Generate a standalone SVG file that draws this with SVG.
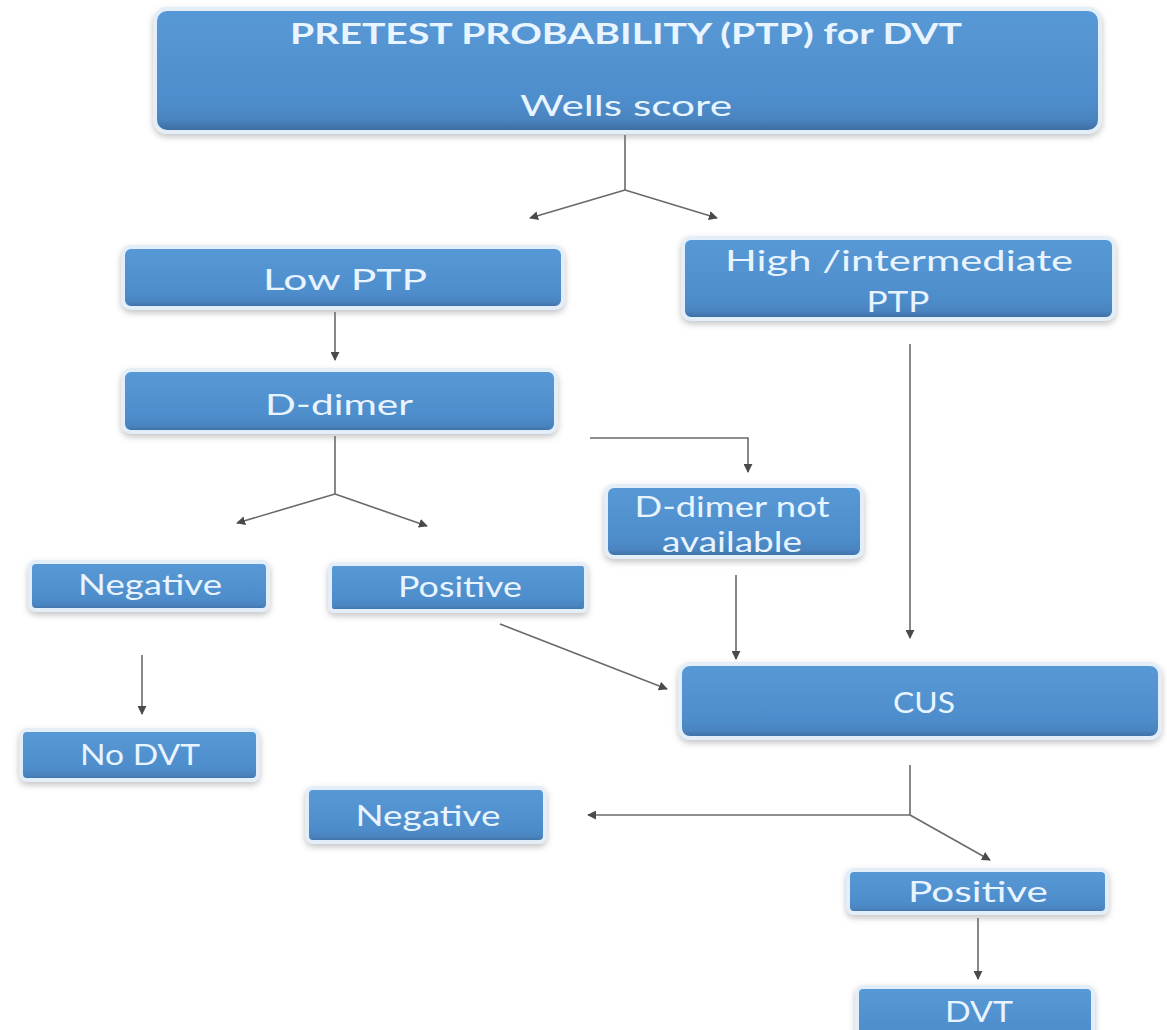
<svg xmlns="http://www.w3.org/2000/svg" width="1167" height="1030" viewBox="0 0 1167 1030">
<defs>
<linearGradient id="bf" x1="0" y1="0" x2="0" y2="1">
<stop offset="0" stop-color="#5799d6"/>
<stop offset="0.75" stop-color="#4e8dcb"/>
<stop offset="0.9" stop-color="#4a84bf"/>
<stop offset="1" stop-color="#3a6a9e"/>
</linearGradient>
<filter id="sh" x="-10%" y="-20%" width="120%" height="150%">
<feDropShadow dx="0" dy="3" stdDeviation="3" flood-color="#7a7a7a" flood-opacity="0.45"/>
</filter>
<marker id="ah" viewBox="0 0 10 10" refX="9" refY="5" markerWidth="9" markerHeight="9" orient="auto" markerUnits="userSpaceOnUse">
<path d="M0,0 L10,5 L0,10 z" fill="#4a4a4a"/>
</marker>
<style>
.box{fill:url(#bf);stroke:#e3eef8;stroke-width:4;filter:url(#sh)}
.t{font-family:Lato,"Open Sans","Liberation Sans",sans-serif;fill:#e8f4ff;font-size:28px;text-anchor:middle}
.tb{font-weight:bold}
.c{fill:none;stroke:#6a6a6a;stroke-width:1.6}
.ca{fill:none;stroke:#6a6a6a;stroke-width:1.6;marker-end:url(#ah)}
</style>
</defs>
<rect width="1167" height="1030" fill="#ffffff"/>
<g id="connectors">
<path class="c" d="M625,135 V190"/>
<path class="ca" d="M625,190 L530,218"/>
<path class="ca" d="M625,190 L717,218"/>
<path class="ca" d="M335,312 V360"/>
<path class="c" d="M335,436 V494"/>
<path class="ca" d="M335,494 L237,523"/>
<path class="ca" d="M335,494 L427,526"/>
<path class="ca" d="M590,438 H748 V472"/>
<path class="ca" d="M142,655 V714"/>
<path class="ca" d="M500,624 L667,689"/>
<path class="ca" d="M736,575 V659"/>
<path class="ca" d="M910,344 V638"/>
<path class="c" d="M910,765 V815"/>
<path class="ca" d="M910,815 H588"/>
<path class="ca" d="M910,815 L990,860"/>
<path class="ca" d="M978,918 V979"/>
</g>
<g id="n-ptp">
<rect class="box" x="155" y="9" width="945" height="123" rx="12"/>
<text class="t tb" x="626" y="44" textLength="672" lengthAdjust="spacingAndGlyphs" font-size="30">PRETEST PROBABILITY (PTP) for DVT</text>
<text class="t" x="626" y="116" textLength="212" lengthAdjust="spacingAndGlyphs" font-size="30">Wells  score</text>
</g>
<g id="n-low">
<rect class="box" x="123" y="247" width="440" height="61" rx="8"/>
<text class="t" x="345" y="290" textLength="164" lengthAdjust="spacingAndGlyphs" font-size="30">Low  PTP</text>
</g>
<g id="n-high">
<rect class="box" x="683" y="238" width="431" height="81" rx="8"/>
<text class="t" x="899" y="271" textLength="348" lengthAdjust="spacingAndGlyphs" font-size="30">High /intermediate</text>
<text class="t" x="898" y="312" textLength="63" lengthAdjust="spacingAndGlyphs" font-size="30">PTP</text>
</g>
<g id="n-ddimer">
<rect class="box" x="123" y="370" width="433" height="62" rx="8"/>
<text class="t" x="339" y="415" textLength="148" lengthAdjust="spacingAndGlyphs" font-size="30">D-dimer</text>
</g>
<g id="n-dna">
<rect class="box" x="606" y="486" width="256" height="71" rx="8"/>
<text class="t" x="732" y="517" textLength="195" lengthAdjust="spacingAndGlyphs" font-size="28">D-dimer not</text>
<text class="t" x="732" y="552" textLength="140" lengthAdjust="spacingAndGlyphs" font-size="28">available</text>
</g>
<g id="n-neg1">
<rect class="box" x="30" y="562" width="238" height="48" rx="6"/>
<text class="t" x="150" y="595" textLength="144" lengthAdjust="spacingAndGlyphs" font-size="27">Negative</text>
</g>
<g id="n-pos1">
<rect class="box" x="330" y="564" width="256" height="47" rx="4"/>
<text class="t" x="460" y="597" textLength="124" lengthAdjust="spacingAndGlyphs" font-size="27">Positive</text>
</g>
<g id="n-nodvt">
<rect class="box" x="21" y="730" width="237" height="50" rx="6"/>
<text class="t" x="140" y="765" textLength="120" lengthAdjust="spacingAndGlyphs" font-size="27">No DVT</text>
</g>
<g id="n-cus">
<rect class="box" x="680" y="664" width="480" height="74" rx="10"/>
<text class="t" x="924" y="713" textLength="62" lengthAdjust="spacingAndGlyphs" font-size="27">CUS</text>
</g>
<g id="n-neg2">
<rect class="box" x="307" y="788" width="238" height="54" rx="6"/>
<text class="t" x="428" y="826" textLength="145" lengthAdjust="spacingAndGlyphs" font-size="27">Negative</text>
</g>
<g id="n-pos2">
<rect class="box" x="848" y="870" width="259" height="43" rx="6"/>
<text class="t" x="978" y="902" textLength="140" lengthAdjust="spacingAndGlyphs" font-size="27">Positive</text>
</g>
<g id="n-dvt">
<rect class="box" x="857" y="987" width="236" height="60" rx="6"/>
<text class="t" x="979" y="1022" textLength="68" lengthAdjust="spacingAndGlyphs" font-size="29">DVT</text>
</g>
</svg>
